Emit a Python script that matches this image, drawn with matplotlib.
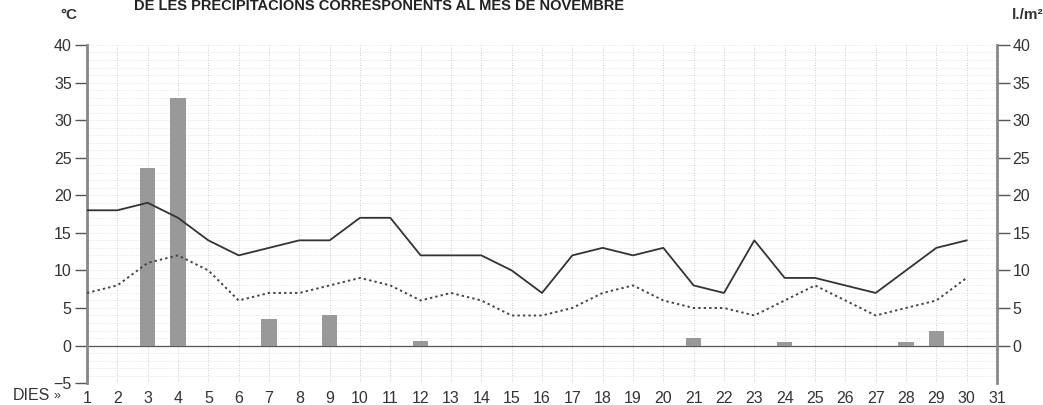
import matplotlib
matplotlib.use("Agg")
import matplotlib.pyplot as plt
import numpy as np

# Data (November)
dies = list(range(1, 31))
temp_max = [18, 18, 19, 17, 14, 12, 13, 14, 14, 17, 17, 12, 12, 12, 10,
            7, 12, 13, 12, 13, 8, 7, 14, 9, 9, 8, 7, 10, 13, 14]
temp_min = [7, 8, 11, 12, 10, 6, 7, 7, 8, 9, 8, 6, 7, 6, 4,
            4, 5, 7, 8, 6, 5, 5, 4, 6, 8, 6, 4, 5, 6, 9]
pluja_dies = [3, 4, 7, 9, 12, 21, 24, 28, 29]
pluja = [23.6, 33, 3.5, 4, 0.6, 1, 0.5, 0.5, 2]

plt.rcParams['font.family'] = ['Liberation Sans Narrow', 'Liberation Sans', 'DejaVu Sans']

fig = plt.figure(figsize=(10.43, 4.05), dpi=100)
ax = fig.add_axes([0.0834, 0.054, 0.8725, 0.835])

# grid
ax.set_xlim(1, 31)
ax.set_ylim(-5, 40)
for x in range(1, 32):
    ax.axvline(x, color='#bbbbbb', lw=0.6, ls=(0, (1, 2)), zorder=0)
for y in range(-5, 41):
    ax.axhline(y, color='#d8d8d8', lw=0.5, ls=(0, (1, 1.5)), zorder=0)
ax.axhline(0, color='#555555', lw=0.9, zorder=1)

# precipitation bars
ax.bar(pluja_dies, pluja, width=0.5, color='#999999', zorder=2)

# temperature lines
ax.plot(dies, temp_max, color='#333333', lw=1.3, zorder=3)
ax.plot(dies, temp_min, color='#444444', lw=1.4, ls=(0, (1.2, 1.6)), zorder=3)

ax.set_xticks(range(1, 32))
ax.set_xticklabels([str(d) for d in range(1, 32)])
ax.set_yticks(range(-5, 41, 5))
ax.set_yticklabels(['\u22125'] + [str(v) for v in range(0, 41, 5)])
ax.tick_params(axis='x', length=0, pad=6, labelsize=11.5, colors='#333333')
ax.tick_params(axis='y', length=9, width=1, color='#555555', labelsize=11.5,
               labelcolor='#333333', pad=2)
for s in ['top', 'bottom', 'right']:
    ax.spines[s].set_visible(False)
ax.spines['left'].set_color('#888888')
ax.spines['left'].set_linewidth(2)

ax2 = ax.twinx()
ax2.set_ylim(-5, 40)
ax2.set_yticks(range(0, 41, 5))
ax2.tick_params(axis='y', length=9, width=1, color='#555555', labelsize=11.5,
                labelcolor='#333333', pad=2)
for s in ['top', 'bottom', 'left']:
    ax2.spines[s].set_visible(False)
ax2.spines['right'].set_color('#888888')
ax2.spines['right'].set_linewidth(2)

fig.text(0.128, 0.985, 'DE LES PRECIPITACIONS CORRESPONENTS AL MES DE NOVEMBRE',
         fontsize=10.5, fontweight='bold', color='#222222', va='center', ha='left')
fig.text(0.058, 0.962, '\u00b0C', fontsize=11, fontweight='bold', color='#333333',
         va='center', ha='left')
fig.text(0.97, 0.962, 'l./m\u00b2', fontsize=11, fontweight='bold', color='#333333',
         va='center', ha='left')
fig.text(0.012, 0.023, 'DIES', fontsize=11.5, color='#333333', va='center', ha='left')
fig.text(0.051, 0.021, '\u00bb', fontsize=9, color='#333333', va='center', ha='left')

fig.savefig('out.png', dpi=100)
